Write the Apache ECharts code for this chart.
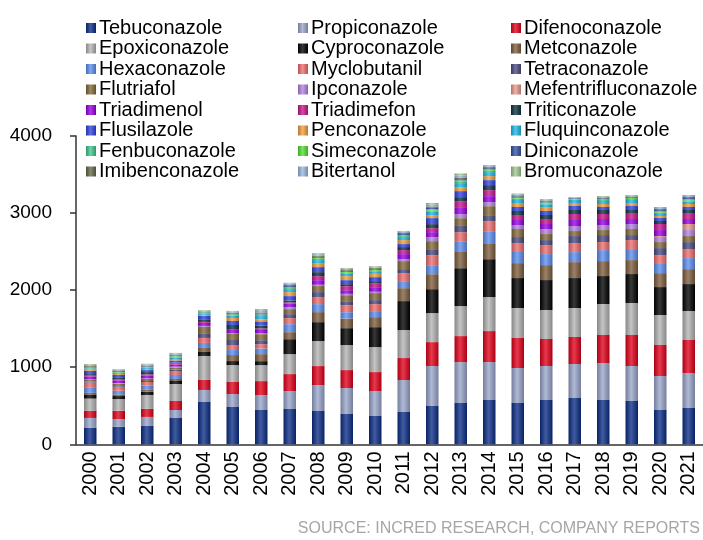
<!DOCTYPE html>
<html>
<head>
<meta charset="utf-8">
<script src="https://cdn.jsdelivr.net/npm/echarts@6/dist/echarts.min.js"></script>
<style>
  html, body { margin: 0; padding: 0; background: #fff; }
  #chart { width: 703px; height: 540px; }
</style>
</head>
<body>
<div id="chart"></div>
<script>
var years = ['2000','2001','2002','2003','2004','2005','2006','2007','2008','2009','2010',
             '2011','2012','2013','2014','2015','2016','2017','2018','2019','2020','2021'];
var yTicks = [0, 1000, 2000, 3000, 4000];

// values, bottom of stack first
var tebuconazole   = [212,229,238,341,549,484,445,458,432,393,367,419,497,536,575,536,575,601,575,562,445,471];
var propiconazole  = [130,99,117,104,156,168,194,233,337,337,324,415,518,531,492,454,441,441,480,454,441,454];
var difenoconazole = [91,108,104,117,130,156,181,220,246,233,246,285,311,337,402,389,350,350,363,402,402,428];
var epoxiconazole  = [160,151,181,220,311,220,207,259,324,324,324,363,376,389,441,389,376,376,402,415,389,376];
var cyproconazole  = [48,39,43,39,52,52,52,194,246,220,259,376,311,492,492,389,389,389,363,376,363,350];
var metconazole    = [26,22,30,26,52,78,91,91,130,125,130,168,194,220,207,194,194,207,194,181,181,194];
var hexaconazole   = [65,47,52,52,65,65,73,104,104,82,78,91,117,130,156,156,143,130,143,143,130,143];
var myclobutanil   = [69,52,43,52,65,65,56,78,91,91,91,104,130,117,130,104,117,117,104,117,104,117];
var tetraconazole  = [13,10,13,20,52,65,52,52,65,52,52,52,78,91,78,78,65,91,91,65,91,91];
var flutriafol     = [20,30,26,26,91,78,78,65,78,78,91,104,104,91,117,104,78,65,65,78,78,78];
var ipconazole     = [8,8,8,10,13,13,13,26,17,17,17,26,52,52,52,52,65,65,65,65,65,78];
var mefentrifluconazole = [0,0,0,0,0,0,0,0,0,0,0,0,0,0,0,0,0,0,0,0,13,78];
var triadimenol    = [39,35,39,26,39,39,52,48,60,48,60,65,65,91,78,65,65,78,78,65,78,65];
var triadimefon    = [10,10,13,15,13,13,10,13,52,52,52,52,52,78,78,65,65,78,65,78,78,78];
var triticonazole  = [20,30,30,13,26,52,39,26,52,26,26,39,52,52,65,52,52,52,52,39,39,39];
var flusilazole    = [43,30,26,26,52,52,52,56,65,52,52,39,78,78,65,52,52,52,39,52,39,39];
var penconazole    = [15,13,15,20,13,39,26,52,52,52,43,52,39,52,52,52,43,39,39,39,26,39];
var fluquinconazole = [15,13,15,20,20,30,43,39,39,30,26,39,43,52,52,39,43,39,39,39,26,30];
var fenbuconazole  = [8,8,8,10,8,10,13,13,17,13,13,13,17,17,17,17,13,8,13,13,17,17];
var simeconazole   = [5,5,5,8,5,8,8,13,13,13,13,13,17,17,17,13,13,8,13,13,17,13];
var diniconazole   = [10,10,8,8,5,13,13,13,13,13,13,13,17,17,17,17,13,8,10,10,17,17];
var imibenconazole = [10,8,8,8,5,8,13,13,13,10,10,13,17,17,13,13,10,5,10,10,13,13];
var bitertanol     = [13,10,13,15,10,13,30,20,20,17,10,17,26,30,13,13,10,5,8,8,13,13];
var bromuconazole  = [10,8,10,10,8,10,13,10,13,10,13,10,20,26,13,10,10,5,10,10,13,13];

var seriesList = [
  ['Tebuconazole', tebuconazole, '#0c2d86'],
  ['Propiconazole', propiconazole, '#9aa7cc'],
  ['Difenoconazole', difenoconazole, '#e2001a'],
  ['Epoxiconazole', epoxiconazole, '#b4b4b4'],
  ['Cyproconazole', cyproconazole, '#000000'],
  ['Metconazole', metconazole, '#7e5d3d'],
  ['Hexaconazole', hexaconazole, '#5e8ef0'],
  ['Myclobutanil', myclobutanil, '#f06e6e'],
  ['Tetraconazole', tetraconazole, '#4b4a80'],
  ['Flutriafol', flutriafol, '#836a3a'],
  ['Ipconazole', ipconazole, '#b184e0'],
  ['Mefentrifluconazole', mefentrifluconazole, '#e89a8c'],
  ['Triadimenol', triadimenol, '#9a00e2'],
  ['Triadimefon', triadimefon, '#c8168e'],
  ['Triticonazole', triticonazole, '#0b3140'],
  ['Flusilazole', flusilazole, '#3142e0'],
  ['Penconazole', penconazole, '#f0a040'],
  ['Fluquinconazole', fluquinconazole, '#1eb8e8'],
  ['Fenbuconazole', fenbuconazole, '#3ec88e'],
  ['Simeconazole', simeconazole, '#52e032'],
  ['Diniconazole', diniconazole, '#3452a2'],
  ['Imibenconazole', imibenconazole, '#626a4a'],
  ['Bitertanol', bitertanol, '#98b8e0'],
  ['Bromuconazole', bromuconazole, '#a2c890']
];

var FONT = '"Liberation Sans", Arial, sans-serif';

function mix(hex, target, t) {
  var r = parseInt(hex.substr(1, 2), 16), g = parseInt(hex.substr(3, 2), 16), b = parseInt(hex.substr(5, 2), 16);
  r = Math.round(r + (target - r) * t);
  g = Math.round(g + (target - g) * t);
  b = Math.round(b + (target - b) * t);
  return 'rgb(' + r + ',' + g + ',' + b + ')';
}

// excel style cylinder shading, dark edges light middle
function shade(hex) {
  return new echarts.graphic.LinearGradient(0, 0, 1, 0, [
    { offset: 0, color: mix(hex, 0, 0.25) },
    { offset: 0.45, color: mix(hex, 255, 0.22) },
    { offset: 1, color: mix(hex, 0, 0.25) }
  ]);
}

var chart = echarts.init(document.getElementById('chart'));

var series = [];
for (var i = 0; i < seriesList.length; i++) {
  series.push({
    name: seriesList[i][0],
    type: 'bar',
    stack: 'total',
    barWidth: 12.5,
    data: seriesList[i][1],
    itemStyle: { color: shade(seriesList[i][2]) },
    emphasis: { disabled: true }
  });
}

// three legend columns, filled row by row
var legendCols = [[], [], []];
for (var k = 0; k < seriesList.length; k++) {
  legendCols[k % 3].push(seriesList[k][0]);
}
var colLeft = [86, 298, 511];
var legends = [];
for (var c = 0; c < 3; c++) {
  legends.push({
    data: legendCols[c],
    orient: 'vertical',
    left: colLeft[c],
    top: 18,
    itemWidth: 10,
    itemHeight: 10,
    itemGap: 0.5,
    padding: 0,
    selectedMode: false,
    icon: 'rect',
    textStyle: { fontFamily: FONT, fontSize: 20, color: '#000', lineHeight: 20, padding: [0, 0, 0, -2] }
  });
}

var option = {
  animation: false,
  backgroundColor: '#fff',
  legend: legends,
  title: {
    text: 'SOURCE: INCRED RESEARCH, COMPANY REPORTS',
    right: 3,
    bottom: 3,
    padding: 0,
    textStyle: { fontFamily: FONT, fontSize: 16, fontWeight: 'normal', color: '#a6a6a6' }
  },
  grid: { left: 76, top: 136, width: 631, height: 308.3, containLabel: false },
  xAxis: {
    type: 'category',
    data: years,
    axisLine: { lineStyle: { color: '#333', width: 1.5 } },
    axisTick: { length: 5, lineStyle: { color: '#333', width: 1.5 } },
    axisLabel: { rotate: 90, interval: 0, fontFamily: FONT, fontSize: 20, color: '#000', margin: 7 }
  },
  yAxis: {
    type: 'value',
    min: yTicks[0],
    max: yTicks[yTicks.length - 1],
    interval: 1000,
    axisLine: { show: true, lineStyle: { color: '#333', width: 1.5 } },
    axisTick: { show: true, length: 6, lineStyle: { color: '#333', width: 1.5 } },
    splitLine: { show: false },
    axisLabel: {
      fontFamily: FONT, fontSize: 19, color: '#000', margin: 24,
      formatter: function (v) { return String(v); }
    }
  },
  series: series
};

chart.setOption(option);
</script>
</body>
</html>
